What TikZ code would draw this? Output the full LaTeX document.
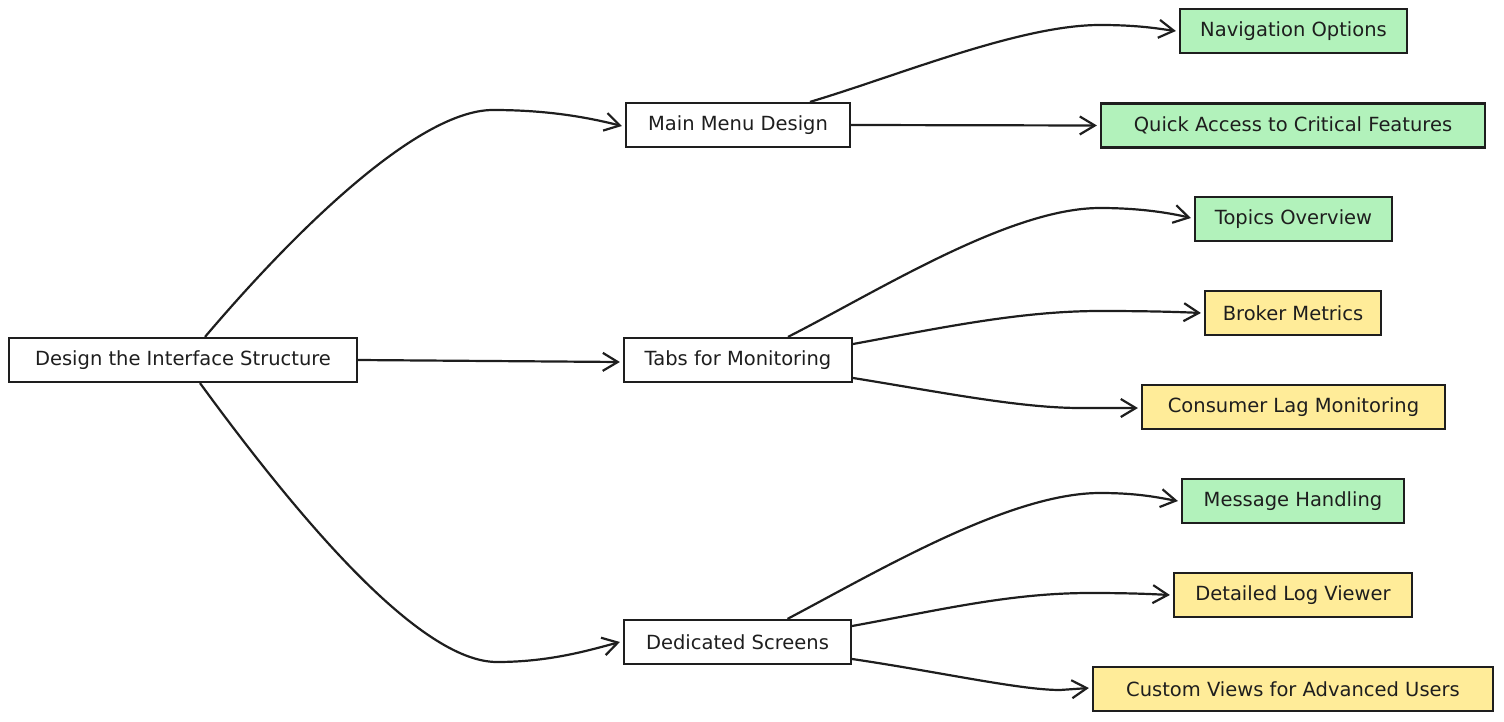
\documentclass[tikz,border=0pt]{standalone}
\usepackage{fontspec}
\setmainfont{DejaVu Sans}
\usetikzlibrary{arrows.meta}
\definecolor{ink}{HTML}{1E1E1E}
\definecolor{leafgreen}{HTML}{B2F2BB}
\definecolor{leafyellow}{HTML}{FFEC99}
\begin{document}
\begin{tikzpicture}[x=1pt,y=-1pt,
  box/.style={draw=ink,line width=2.2pt,fill=white,minimum height=44pt,inner sep=0pt,
    font=\fontsize{19.5}{23}\selectfont,text=ink},
  gbox/.style={box,fill=leafgreen},
  ybox/.style={box,fill=leafyellow},
  link/.style={draw=ink,line width=2.2pt,
    -{Straight Barb[length=15pt,width=18pt,line width=2.2pt]}}]
\useasboundingbox (0,0) rectangle (1504,722);
% level 0 and 1
\node[box,minimum width=348pt] (root) at (183,360) {Design the Interface Structure};
\node[box,minimum width=224pt] (mm) at (738,125) {Main Menu Design};
\node[box,minimum width=228pt] (tabs) at (738,360) {Tabs for Monitoring};
\node[box,minimum width=227pt] (ded) at (737.5,642) {Dedicated Screens};
% leaves
\node[gbox,minimum width=227pt] (nav) at (1293.5,31) {Navigation Options};
\node[gbox,minimum width=384pt] (quick) at (1293,125.5) {Quick Access to Critical Features};
\node[gbox,minimum width=197pt] (topics) at (1293.5,219) {Topics Overview};
\node[ybox,minimum width=176pt] (broker) at (1293,313) {Broker Metrics};
\node[ybox,minimum width=303pt] (consumer) at (1293.5,407) {Consumer Lag Monitoring};
\node[gbox,minimum width=222pt] (message) at (1293,501) {Message Handling};
\node[ybox,minimum width=238pt] (detailed) at (1293,595) {Detailed Log Viewer};
\node[ybox,minimum width=400pt] (custom) at (1293,689) {Custom Views for Advanced Users};
% connectors from root
\draw[link] ([xshift=22pt]root.north) .. controls (300,225) and (420,110) .. (493,110)
  .. controls (550,110) and (590,118) .. ([xshift=-3pt,yshift=-1pt]mm.west);
\draw[link] (root.east) -- ([xshift=-3pt,yshift=-2pt]tabs.west);
\draw[link] ([xshift=17pt]root.south) .. controls (300,520) and (420,662) .. (497,662)
  .. controls (550,662) and (590,650) .. ([xshift=-3pt]ded.west);
% from main menu
\draw[link] ([xshift=72pt]mm.north) .. controls (900,75) and (1020,25) .. (1100,25)
  .. controls (1140,25) and (1160,29) .. ([xshift=-3pt]nav.west);
\draw[link] (mm.east) -- ([xshift=-3pt]quick.west);
% from tabs
\draw[link] ([xshift=50pt]tabs.north) .. controls (880,290) and (1010,208) .. (1100,208)
  .. controls (1140,208) and (1170,213) .. ([xshift=-3pt,yshift=1pt]topics.west);
\draw[link] ([yshift=16pt]tabs.east) .. controls (940,328) and (1020,311) .. (1100,311)
  .. controls (1150,311) and (1180,312) .. ([xshift=-3pt]broker.west);
\draw[link] ([yshift=-18pt]tabs.east) .. controls (940,392) and (1020,408) .. (1080,408)
  -- ([xshift=-3pt,yshift=-1pt]consumer.west);
% from dedicated screens
\draw[link] ([xshift=50pt]ded.north) .. controls (880,570) and (1010,493) .. (1100,493)
  .. controls (1140,493) and (1160,498) .. ([xshift=-3pt]message.west);
\draw[link] ([yshift=16pt]ded.east) .. controls (940,610) and (1010,593) .. (1090,593)
  .. controls (1130,593) and (1150,594) .. ([xshift=-3pt]detailed.west);
\draw[link] ([yshift=-17pt]ded.east) .. controls (940,672) and (1020,690) .. (1060,690)
  -- ([xshift=-3pt,yshift=1pt]custom.west);
\end{tikzpicture}
\end{document}
